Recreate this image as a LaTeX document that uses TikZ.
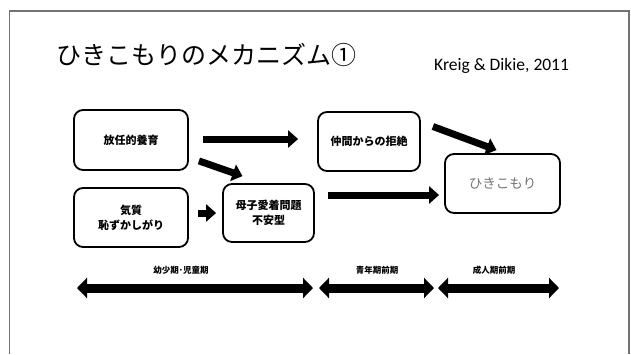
\documentclass[tikz,border=0pt]{standalone}
\usepackage{fontspec}
\setmainfont{Carlito}
\newfontfamily\jp{Noto Sans CJK JP}
\usetikzlibrary{arrows.meta,calc}
\begin{document}
\begin{tikzpicture}[x=1pt,y=-1pt,
  box/.style={draw=black, line width=1.8pt, rounded corners=9pt, fill=white, align=center, inner sep=0pt,
    font=\jp\bfseries\fontsize{11}{15}\selectfont},
  fatarrow/.style={line width=7pt, -{Triangle[length=10pt,width=17pt]}},
  spanarrow/.style={line width=9pt, {Triangle[length=10pt,width=20pt]}-{Triangle[length=10pt,width=20pt]}},
  period/.style={font=\jp\bfseries\fontsize{8.5}{10}\selectfont, inner sep=0pt},
  frame/.style={draw=black!55, line width=1.5pt}]
\useasboundingbox (0,0) rectangle (631,354);
\draw[frame] (9.5,354) -- (9.5,11) -- (629,11) -- (629,354);

\node[font=\jp\fontsize{25}{30}\selectfont, anchor=west, inner sep=0pt] (title) at (56,55) {ひきこもりのメカニズム①};
\node[font=\fontsize{17.5}{20}\selectfont, anchor=west, inner sep=0pt] (ref) at (434,66) {Kreig \& Dikie, 2011};

\node[box, minimum width=114pt, minimum height=60pt] (neglect) at (131,140) {放任的養育};
\node[box, minimum width=114pt, minimum height=59pt] (temper) at (131,217.5) {気質\\恥ずかしがり};
\node[box, minimum width=91pt, minimum height=58pt] (attach) at (268.5,213) {母子愛着問題\\不安型};
\node[box, minimum width=102pt, minimum height=59pt] (peer) at (369,141.5) {仲間からの拒絶};
\node[box, minimum width=115pt, minimum height=59pt, text=black!55, font=\jp\fontsize{13.5}{16}\selectfont] (hiki) at (502.5,183.5) {ひきこもり};

\draw[fatarrow] ($(neglect.east)+(14,-1)$) -- ($(peer.west)+(-19,-2.5)$);
\draw[fatarrow] ($(neglect.south east)+(10,-10)$) -- ($(attach.north)+(-26,-7)$);
\draw[fatarrow] ($(attach.west)+(-24,0)$) -- ($(attach.west)+(-6,0)$);
\draw[fatarrow] ($(peer.east)+(12,-15)$) -- ($(hiki.north)+(-6,-3)$);
\draw[fatarrow] ($(attach.east)+(13,-18)$) -- ($(hiki.west)+(-5,11.5)$);

\coordinate (p1a) at (77,288);
\coordinate (p1b) at (313,288);
\coordinate (p2a) at (319,288);
\coordinate (p2b) at (434,288);
\coordinate (p3a) at (438,288);
\coordinate (p3b) at (559,288);
\draw[spanarrow] (p1a) -- (p1b);
\draw[spanarrow] (p2a) -- (p2b);
\draw[spanarrow] (p3a) -- (p3b);
\node[period] (l1) at (181,270) {幼少期･児童期};
\node[period] (l2) at (377,270) {青年期前期};
\node[period] (l3) at (494,270) {成人期前期};
\end{tikzpicture}
\end{document}
